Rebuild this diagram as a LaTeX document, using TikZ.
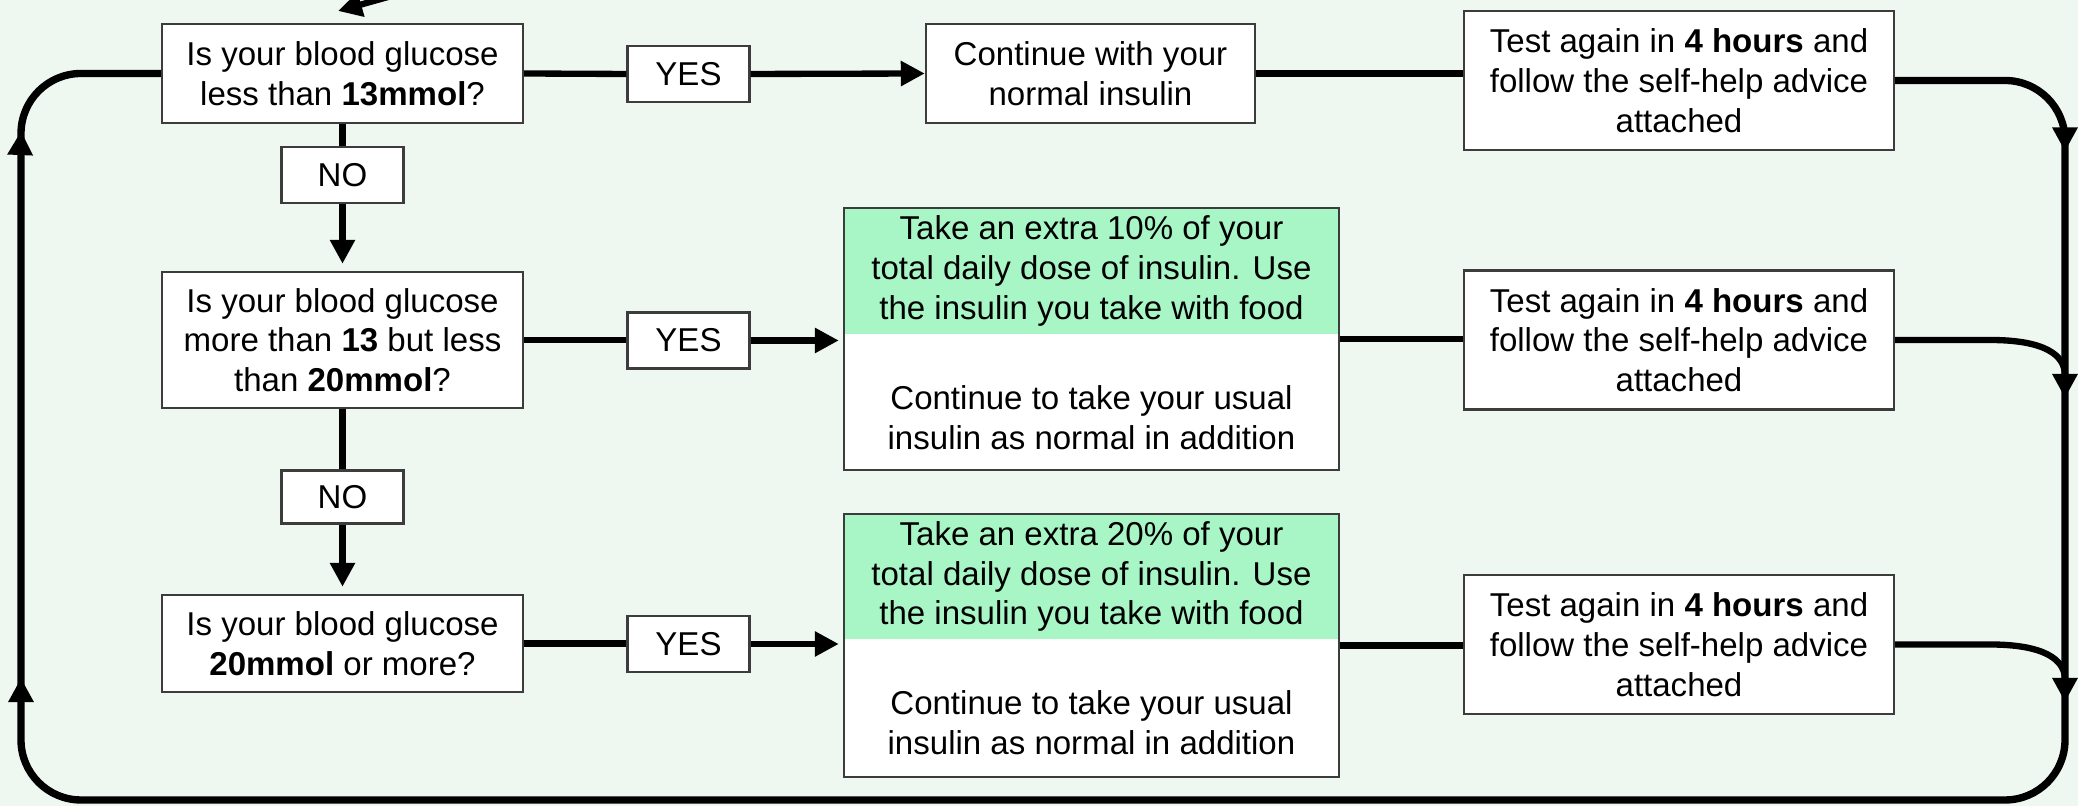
\documentclass[tikz,border=0pt]{standalone}
\usepackage{fontspec}
\setmainfont{Liberation Sans}
\usepackage{xcolor}
\usepackage{tikz}
\usetikzlibrary{arrows.meta, positioning, decorations.markings}
\definecolor{bgmint}{RGB}{238,248,240}
\definecolor{dosegreen}{RGB}{168,245,198}
\definecolor{boxgray}{RGB}{60,60,60}

\begin{document}
\begin{tikzpicture}
  [
    x=0.1mm, y=-0.1mm,
    Box/.style={draw=boxgray, fill=white, line width=0.7pt, align=center, inner sep=0pt, font=\fontsize{9.4}{11.3}\selectfont},
    Question/.style={Box, minimum width=36.1mm},
    Tag/.style={Box, minimum width=12.2mm, minimum height=5.6mm},
    Action/.style={Box, minimum width=32.9mm, minimum height=9.9mm},
    Retest/.style={Box, minimum width=43mm, minimum height=13.9mm},
    Dose/.style={fill=dosegreen, align=center, inner sep=0pt, minimum width=49.5mm, font=\fontsize{9.4}{11.3}\selectfont},
    Usual/.style={fill=white, inner sep=0pt, minimum width=49.5mm},
    Frame/.style={draw=boxgray, line width=0.7pt, inner sep=0pt, minimum width=49.5mm},
    Note/.style={align=center, inner sep=0pt, font=\fontsize{9.4}{11.3}\selectfont},
    Flow/.style={draw, line width=1.8pt},
    Arr/.style={Flow, -{Triangle[length=2.4mm, width=2.4mm]}}
  ]
  \useasboundingbox (0,0) rectangle (2078,806);
  \path[fill=bgmint] (0,0) rectangle (2078,806);
  % Nodes
  \node[Question, minimum height=9.9mm] (q1) at (342.5,73.5) {Is your blood glucose\\less than \textbf{13mmol}?};
  \node[Tag] (no1) at (342.5,175) {NO};
  \node[Question, minimum height=13.6mm] (q2) at (342.5,340) {Is your blood glucose\\more than \textbf{13} but less\\than \textbf{20mmol}?};
  \node[Tag, minimum height=5.3mm] (no2) at (342.5,497) {NO};
  \node[Question, minimum height=9.7mm] (q3) at (342.5,643.5) {Is your blood glucose\\\textbf{20mmol} or more?};
  \node[Tag] (yes1) at (688.5,74) {YES};
  \node[Tag] (yes2) at (688.5,340.5) {YES};
  \node[Tag] (yes3) at (688.5,644) {YES};
  \node[Action] (a1) at (1090.5,73.5) {Continue with your\\normal insulin};
  \node[Dose, minimum height=12.6mm] (a2top) at (1091.5,271) {Take an extra 10\% of your\\total daily dose of insulin. Use\\the insulin you take with food};
  \node[Usual, minimum height=13.6mm] (a2bot) at (1091.5,402) {};
  \node[Note] (a2txt) at (1091.5,418) {Continue to take your usual\\insulin as normal in addition};
  \node[Frame, minimum height=26.2mm] (a2) at (1091.5,339) {};
  \node[Dose, minimum height=12.5mm] (a3top) at (1091.5,576.5) {Take an extra 20\% of your\\total daily dose of insulin. Use\\the insulin you take with food};
  \node[Usual, minimum height=13.8mm] (a3bot) at (1091.5,708) {};
  \node[Note] (a3txt) at (1091.5,723) {Continue to take your usual\\insulin as normal in addition};
  \node[Frame, minimum height=26.3mm] (a3) at (1091.5,645.5) {};
  \node[Retest] (t1) at (1679,80.5) {Test again in \textbf{4 hours} and\\follow the self-help advice\\attached};
  \node[Retest] (t2) at (1679,340) {Test again in \textbf{4 hours} and\\follow the self-help advice\\attached};
  \node[Retest] (t3) at (1679,644.5) {Test again in \textbf{4 hours} and\\follow the self-help advice\\attached};
  % Loop corners
  \coordinate (rtop) at (2065,80.5);
  \coordinate (rbot) at (2065,800);
  \coordinate (lbot) at (21,800);
  \coordinate (ltop) at (21,73.5);
  \coordinate (rjoin2) at (2065,398);
  \coordinate (rjoin3) at (2065,702);
  \coordinate (offtop) at (388,-3);
  \coordinate (offtip) at (338,11);
  % Lines
  \path [Flow] (q1.east) -- (yes1.west);
  \path [Arr] (yes1.east) -- (a1.west);
  \path [Flow] (a1.east) -- (a1.east -| t1.west);
  \path [Flow] (q2.east) -- (q2.east -| yes2.west);
  \path [Arr, shorten >=0.4mm] (yes2.east) -- (yes2.east -| a2.west);
  \path [Flow] (a2.east) -- (a2.east -| t2.west);
  \path [Flow] (q3.east) -- (q3.east -| yes3.west);
  \path [Arr, shorten >=0.4mm] (yes3.east) -- (yes3.east -| a3.west);
  \path [Flow] (a3.east) -- (a3.east -| t3.west);
  \path [Flow] (q1.south) -- (no1.north);
  \path [Arr, shorten >=0.7mm] (no1.south) -- (q2.north);
  \path [Flow] (q2.south) -- (no2.north);
  \path [Arr, shorten >=0.7mm] (no2.south) -- (q3.north);
  \path [Flow, line width=2.1pt, rounded corners=6mm, postaction={decorate},
    decoration={markings,
      mark=at position 21.5mm with {\arrow{Triangle[length=2.4mm, width=2.4mm]}},
      mark=at position 297.8mm with {\arrow{Triangle[length=2.4mm, width=2.4mm]}},
      mark=at position 352.5mm with {\arrow{Triangle[length=2.4mm, width=2.4mm]}}}]
    (t1.east) -- (rtop) -- (rbot) -- (lbot) -- (ltop) -- (q1.west);
  \path [Arr] (t2.east) -- (1990,340) .. controls (2045,340) and (2065,355) .. (rjoin2);
  \path [Arr] (t3.east) -- (1990,644.5) .. controls (2045,644.5) and (2065,660) .. (rjoin3);
  \path [Arr] (offtop) -- (offtip);
\end{tikzpicture}
\end{document}
